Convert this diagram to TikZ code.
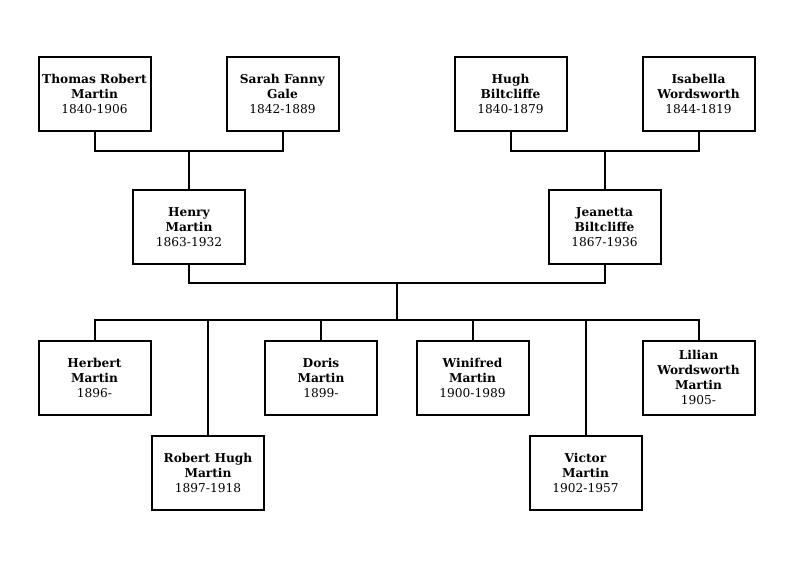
\documentclass[tikz,border=0pt]{standalone}
\usepackage{fontspec}
\setmainfont{DejaVu Serif}
\usetikzlibrary{calc}

\tikzset{
    person/.style={draw, line width=2pt, minimum width=112pt, minimum height=74pt,
        inner sep=1pt, align=center, font=\fontsize{12.2}{15}\selectfont},
    link/.style={line width=2pt},
}
\newcommand{\who}[3]{\textbf{#1}\\\textbf{#2}\\#3}

\begin{document}
\begin{tikzpicture}[x=1pt,y=-1pt]
    \useasboundingbox (0,0) rectangle (793,560);
    % grandparents
    \node[person] (thomas) at (94.5,94) {\who{Thomas Robert}{Martin}{1840-1906}};
    \node[person] (sarah) at (282.5,94) {\who{Sarah Fanny}{Gale}{1842-1889}};
    \node[person] (hugh) at (510.5,94) {\who{Hugh}{Biltcliffe}{1840-1879}};
    \node[person] (isabella) at (698.5,94) {\who{Isabella}{Wordsworth}{1844-1819}};
    % parents
    \node[person] (henry) at (189,227) {\who{Henry}{Martin}{1863-1932}};
    \node[person] (jeanetta) at (604.5,227) {\who{Jeanetta}{Biltcliffe}{1867-1936}};
    % children
    \node[person] (herbert) at (94.5,377.5) {\who{Herbert}{Martin}{1896-}};
    \node[person] (robert) at (208,472.5) {\who{Robert Hugh}{Martin}{1897-1918}};
    \node[person] (doris) at (321,377.5) {\who{Doris}{Martin}{1899-}};
    \node[person] (winifred) at (472.5,377.5) {\who{Winifred}{Martin}{1900-1989}};
    \node[person] (victor) at (585.5,472.5) {\who{Victor}{Martin}{1902-1957}};
    \node[person] (lilian) at (698.5,377.5) {\textbf{Lilian}\\\textbf{Wordsworth}\\\textbf{Martin}\\1905-};

    \coordinate (mjoin) at (189,151);
    \coordinate (bjoin) at (604.5,151);
    \coordinate (pjoin) at (397,283);
    \coordinate (kids) at (397,320);

    \draw[link] (thomas.south) |- (mjoin) -| (sarah.south);
    \draw[link] (mjoin) -- (henry.north);
    \draw[link] (hugh.south) |- (bjoin) -| (isabella.south);
    \draw[link] (bjoin) -- (jeanetta.north);
    \draw[link] (henry.south) |- (pjoin) -| (jeanetta.south);
    \draw[link] (pjoin) -- (kids);
    \draw[link] (herbert.north) |- (kids) -| (lilian.north);
    \foreach \kid in {robert,doris,winifred,victor}
        \draw[link] (\kid.north) -- (\kid.north |- kids);
\end{tikzpicture}
\end{document}
